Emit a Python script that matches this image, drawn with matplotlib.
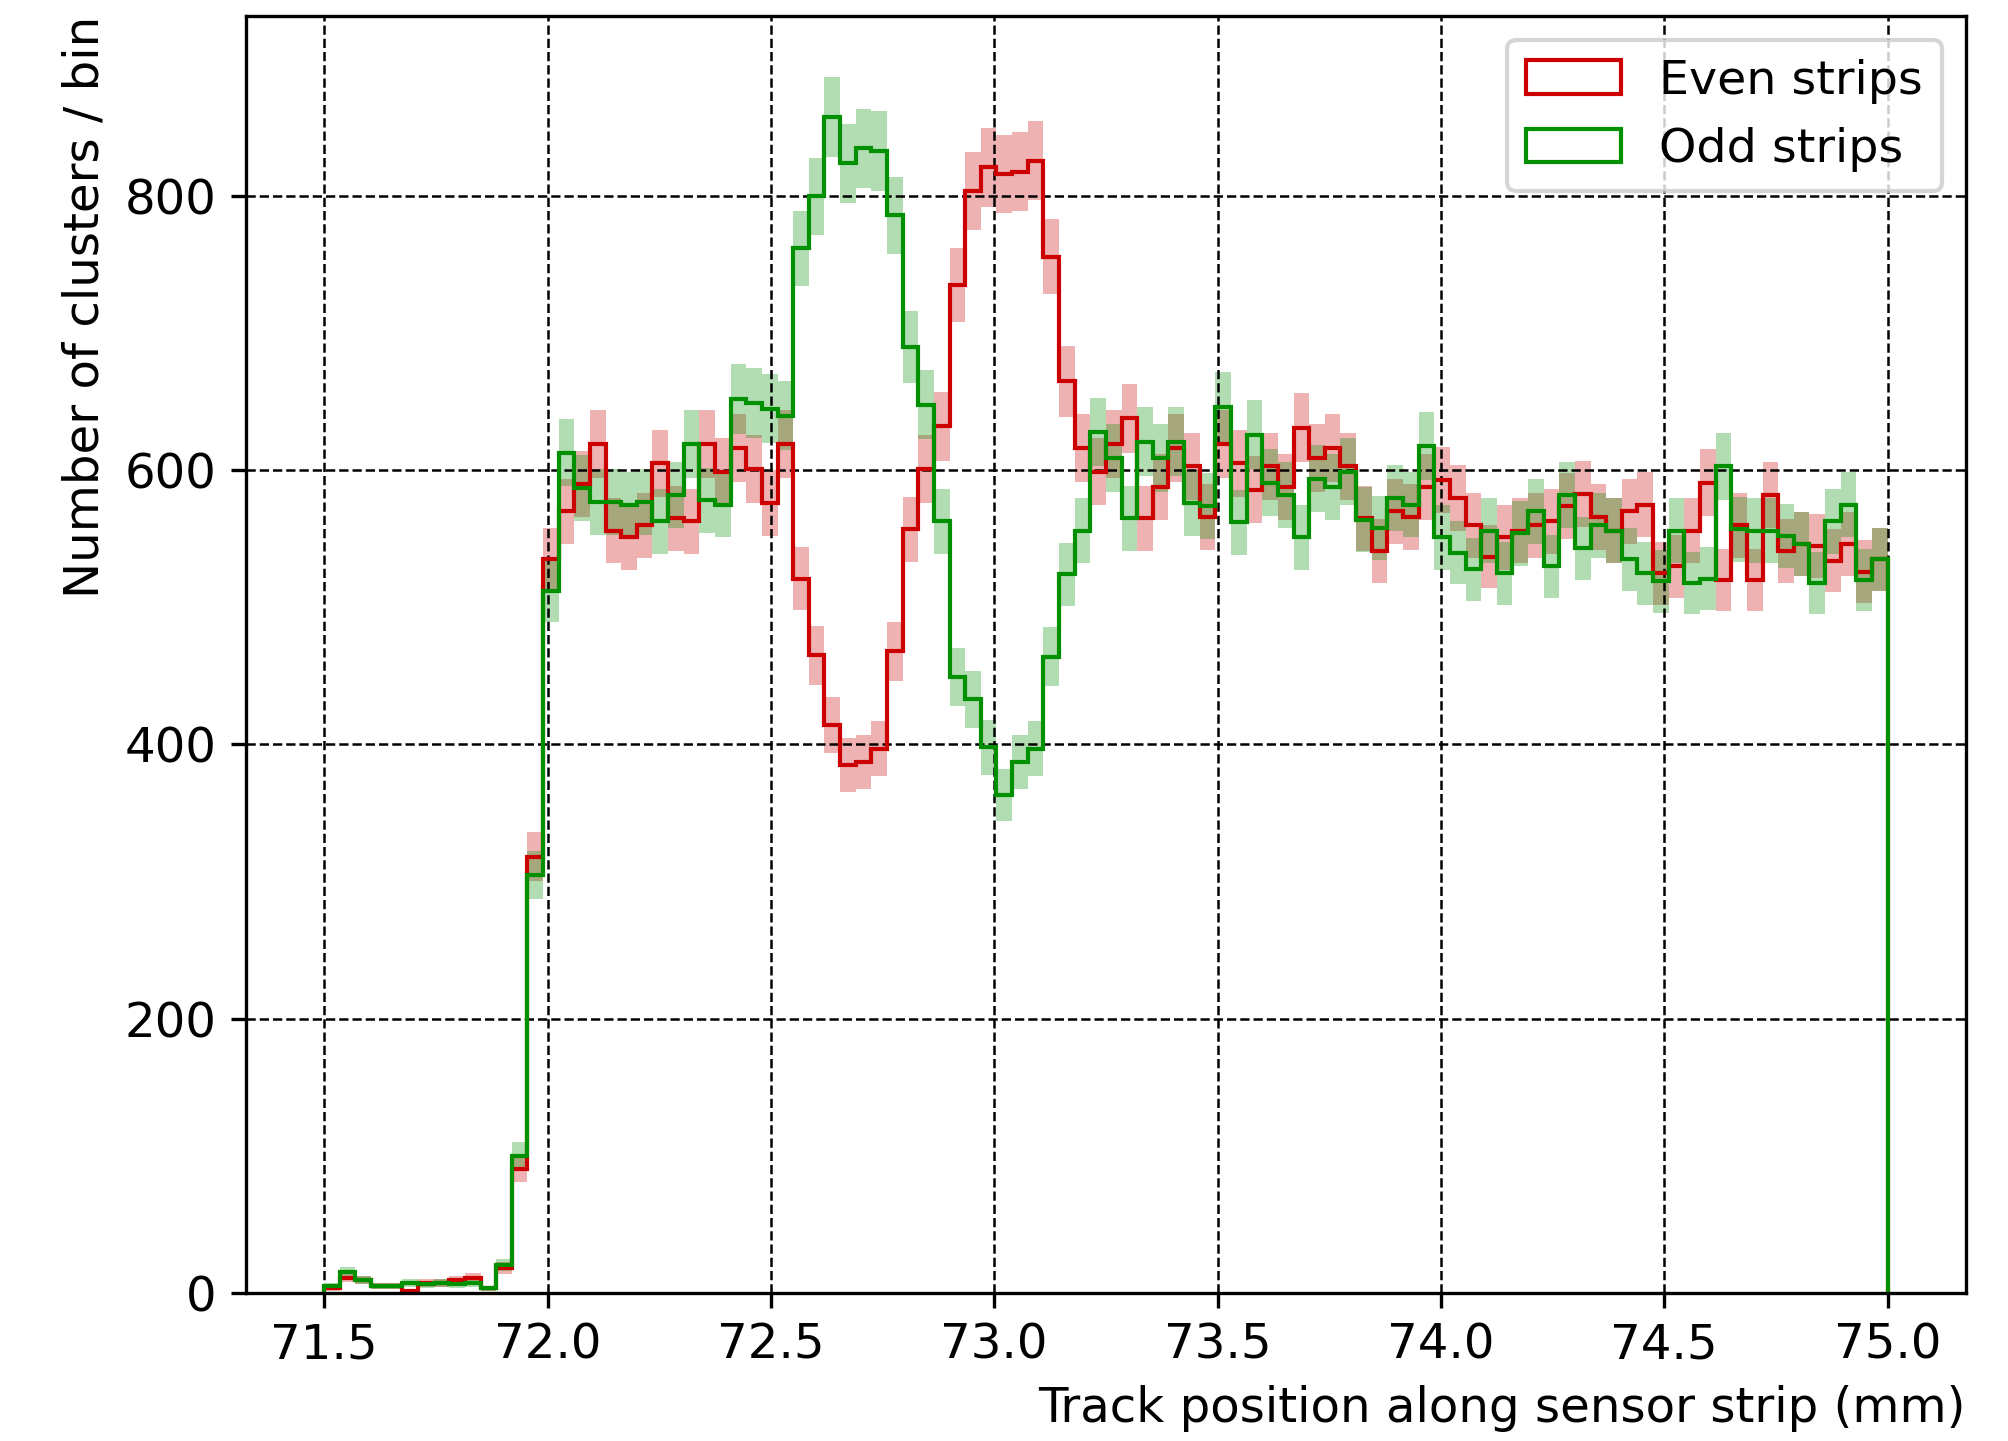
import numpy as np
import matplotlib
matplotlib.use("Agg")
import matplotlib.pyplot as plt

# 100 bins, 71.5 - 75.0 mm
x_lo, x_hi, n_bins = 71.5, 75.0, 100

even_counts = [
    3, 11, 9, 5, 5, 1, 7, 7, 9, 11,
    3, 18, 90, 318, 535, 570, 590, 619, 556, 551,
    560, 605, 565, 563, 619, 599, 616, 601, 576, 619,
    521, 465, 414, 385, 387, 397, 468, 557, 601, 632,
    735, 804, 821, 816, 818, 826, 756, 665, 616, 599,
    619, 638, 565, 588, 616, 603, 566, 619, 605, 586,
    603, 588, 631, 609, 616, 603, 565, 541, 570, 566,
    588, 593, 580, 560, 537, 551, 556, 560, 563, 574,
    583, 566, 556, 570, 575, 525, 530, 556, 591, 520,
    560, 520, 582, 541, 546, 545, 534, 546, 526, 535,
]

odd_counts = [
    5, 15, 9, 5, 5, 7, 6, 7, 6, 7,
    3, 20, 100, 305, 512, 613, 587, 577, 577, 575,
    577, 563, 582, 619, 578, 575, 652, 649, 645, 640,
    762, 800, 858, 824, 835, 833, 786, 690, 648, 563,
    449, 433, 398, 363, 387, 397, 464, 524, 556, 628,
    609, 565, 621, 609, 621, 576, 574, 646, 562, 626,
    591, 582, 551, 594, 588, 599, 564, 558, 580, 575,
    618, 551, 540, 528, 556, 525, 554, 570, 530, 582,
    543, 560, 556, 535, 525, 519, 556, 518, 521, 603,
    557, 556, 556, 552, 546, 518, 563, 575, 520, 535,
]

labels = ["Even strips", "Odd strips"]
colors = ["#cc0000", "#009000"]

plt.rcParams["font.size"] = 11.6

edges = np.linspace(x_lo, x_hi, n_bins + 1)
centers = 0.5 * (edges[:-1] + edges[1:])

fig = plt.figure(figsize=(2008 / 300, 1441 / 300), dpi=300)
ax = fig.add_axes([0.1225, 0.103, 0.8565, 0.886])

for counts, lab, col in zip([even_counts, odd_counts], labels, colors):
    c = np.array(counts, dtype=float)
    err = np.sqrt(c)
    ax.hist(centers, bins=edges, weights=c, histtype="step", color=col,
            linewidth=1.0, label=lab)
    ax.fill_between(edges, np.append(c - err, c[-1] - err[-1]),
                    np.append(c + err, c[-1] + err[-1]),
                    step="post", color=col, alpha=0.3, linewidth=0)

ax.set_xticks(np.arange(71.5, 75.01, 0.5))
ax.set_yticks([0, 200, 400, 600, 800])
ax.grid(True, linestyle="--", color="black", linewidth=0.6)
ax.set_xlabel("Track position along sensor strip (mm)", loc="right")
ax.set_ylabel("Number of clusters / bin", loc="top")
ax.legend(loc="upper right", fontsize=11.4)

fig.savefig("out.png", dpi=300)
